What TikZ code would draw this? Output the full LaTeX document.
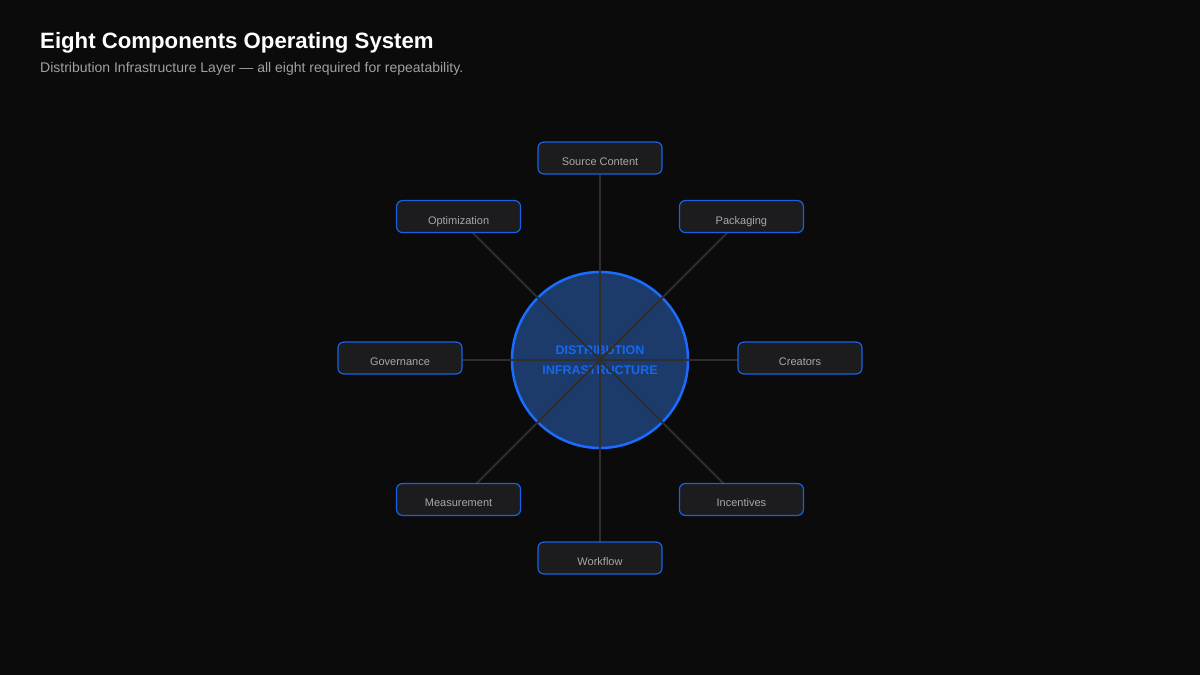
\documentclass[tikz,border=0pt]{standalone}
\usepackage{fontspec}
\setmainfont{Liberation Sans}
\usetikzlibrary{calc}
\definecolor{bg}{HTML}{0B0B0B}
\definecolor{boxfill}{HTML}{1C1C1E}
\definecolor{boxline}{HTML}{1662E6}
\definecolor{hubfill}{HTML}{1C3A6A}
\definecolor{hubline}{HTML}{1A6CFF}
\definecolor{hubtext}{HTML}{1668EE}
\definecolor{spoke}{HTML}{2E2E2E}
\definecolor{subgray}{HTML}{A0A0A0}
\definecolor{boxtext}{HTML}{A8A8A8}
\begin{document}
\begin{tikzpicture}[x=1pt,y=-1pt,
  comp/.style={draw=boxline, fill=boxfill, line width=1.2pt, rounded corners=6pt,
    minimum width=124pt, minimum height=32pt, inner sep=0pt, yshift=2pt,
    text height=15pt, text depth=0pt,
    text=boxtext, font=\fontsize{11}{13}\selectfont},
  hub/.style={circle, draw=hubline, fill=hubfill, line width=2.5pt, minimum size=176pt, inner sep=0pt},
  spokeline/.style={draw=spoke, line width=1.8pt}]
\fill[bg] (0,0) rectangle (1200,675);
\useasboundingbox (0,0) rectangle (1200,675);
\node[anchor=base west, inner sep=0pt, text=white, font=\fontsize{22.2}{26}\bfseries\selectfont] (title) at (40,48) {Eight Components Operating System};
\node[anchor=base west, inner sep=0pt, text=subgray, font=\fontsize{14}{16}\selectfont] (sub) at (40,72) {Distribution Infrastructure Layer — all eight required for repeatability.};
\node[hub] (c) at (600,360) {};
\node[text=hubtext, font=\fontsize{12.5}{15}\bfseries\selectfont, anchor=base] (t1) at (600,354) {DISTRIBUTION};
\node[text=hubtext, font=\fontsize{12.5}{15}\bfseries\selectfont, anchor=base] (t2) at (600,374) {INFRASTRUCTURE};
\coordinate (cc) at (600,360);
\foreach \i/\a in {1/90,2/45,3/0,4/-45,5/-90,6/-135,7/180,8/135}
  \coordinate (p\i) at ($(cc)+(\a:200 and -200)$);
\foreach \i in {1,...,8}
  \draw[spokeline] (cc) -- (p\i);
\node[comp] (n1) at (p1) {Source Content};
\node[comp] (n2) at (p2) {Packaging};
\node[comp] (n3) at (p3) {Creators};
\node[comp] (n4) at (p4) {Incentives};
\node[comp] (n5) at (p5) {Workflow};
\node[comp] (n6) at (p6) {Measurement};
\node[comp] (n7) at (p7) {Governance};
\node[comp] (n8) at (p8) {Optimization};
\end{tikzpicture}
\end{document}
